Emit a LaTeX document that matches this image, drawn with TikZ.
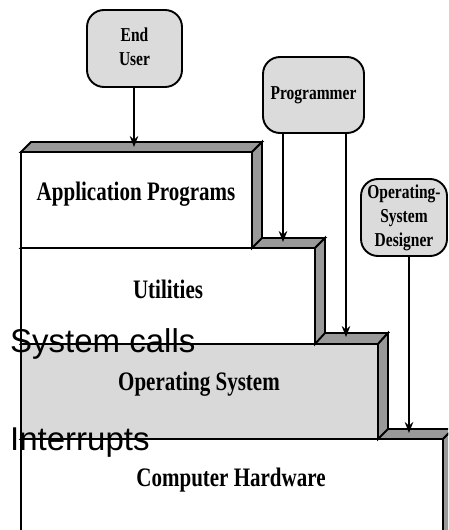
\documentclass[tikz,border=0pt]{standalone}
\usepackage{fontspec}
\setmainfont{Liberation Serif}
\newfontfamily\labelsans{Liberation Sans}
\usetikzlibrary{arrows.meta}
\definecolor{facegray}{gray}{0.6}
\definecolor{actorgray}{gray}{0.86}
\definecolor{osgray}{gray}{0.85}
\newcommand{\vstretch}[1]{\scalebox{1}[1.27]{#1}}
\newcommand{\stk}[1]{\vstretch{\begin{tabular}{@{}c@{}}#1\end{tabular}}}
\tikzset{
  facepart/.style={draw=black, fill=facegray, line width=1.9pt, line join=miter},
  frontpart/.style={draw=black, fill=white, line width=1.9pt},
  actor/.style={draw=black, fill=actorgray, line width=1.9pt, rounded corners=17pt,
    font=\fontsize{15.5}{19}\selectfont\bfseries, inner sep=0pt},
  ltext/.style={font=\fontsize{21}{25}\selectfont\bfseries, inner sep=0pt},
  bigtext/.style={font=\labelsans\fontsize{33}{36}\selectfont, inner sep=0pt, anchor=base west},
  link/.style={line width=1.5pt, -{Stealth[length=11pt,width=8.5pt]}},
}
\begin{document}
\begin{tikzpicture}[x=1pt,y=-1pt]
\useasboundingbox (0,0) rectangle (448,530);
\clip (0,0) rectangle (448,530);
% Computer Hardware
\draw[facepart] (21,439) -- (31,429) -- (453,429) -- (443,439) -- cycle;
\draw[facepart] (443,439) -- (453,429) -- (453,545) -- (443,555) -- cycle;
\draw[frontpart] (21,439) rectangle (443,560);
% Operating System
\draw[facepart] (21,344) -- (31,333) -- (388,333) -- (378,344) -- cycle;
\draw[facepart] (378,344) -- (388,333) -- (388,429) -- (378,439) -- cycle;
\draw[frontpart, fill=osgray] (21,344) rectangle (378,439);
% Utilities
\draw[facepart] (21,248) -- (31,238) -- (325,238) -- (315,248) -- cycle;
\draw[facepart] (315,248) -- (325,238) -- (325,333) -- (315,344) -- cycle;
\draw[frontpart] (21,248) rectangle (315,344);
% Application Programs
\draw[facepart] (21,152) -- (31,142) -- (262,142) -- (252,152) -- cycle;
\draw[facepart] (252,152) -- (262,142) -- (262,238) -- (252,248) -- cycle;
\draw[frontpart] (21,152) rectangle (252,248);

% layer labels
\node[ltext] (app) at (136,194) {\vstretch{Application Programs}};
\node[ltext] (util) at (168,289) {\vstretch{Utilities}};
\node[ltext] (os) at (199,384) {\vstretch{Operating System}};
\node[ltext] (hw) at (231,480) {\vstretch{Computer Hardware}};

% actors
\node[actor, minimum width=95pt, minimum height=77pt] (eu) at (134.5,48.5) {\stk{End\\User}};
\node[actor, minimum width=101pt, minimum height=76pt] (prog) at (313.5,95) {\vstretch{Programmer}};
\node[actor, minimum width=86pt, minimum height=77pt] (osd) at (404,217.5) {\stk{Operating-\\System\\Designer}};

% arrow ends
\coordinate (t0) at (134,147);
\coordinate (t1) at (283,242);
\coordinate (t2) at (346,337);
\coordinate (t3) at (409,433);
\draw[link] (eu.south -| t0) -- (t0);
\draw[link] (prog.south -| t1) -- (t1);
\draw[link] (prog.south -| t2) -- (t2);
\draw[link] (osd.south -| t3) -- (t3);

% overlay labels
\node[bigtext] (sc) at (10,352) {System calls};
\node[bigtext] (intr) at (10,450) {Interrupts};
\end{tikzpicture}
\end{document}
